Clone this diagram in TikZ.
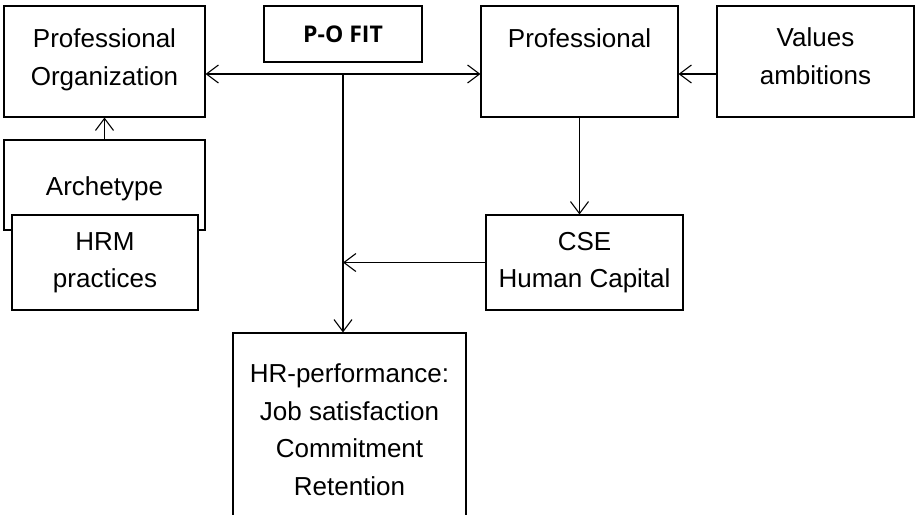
\documentclass[tikz,border=0pt]{standalone}
\usepackage{fontspec}
\setmainfont{Liberation Sans}
\newfontfamily\fitfont{Open Sans}
\usetikzlibrary{arrows.meta}
\newcommand\lowpad[1]{\rule[-#1]{0pt}{#1}}
\begin{document}
\begin{tikzpicture}[x=1pt,y=-1pt,
  box/.style={draw,line width=1.1pt,inner sep=0pt,align=center,fill=white,
    font=\fontsize{26}{37.5}\selectfont},
  arr/.style={line width=1.1pt,-{Straight Barb[length=12pt,width=18pt,line width=1.1pt]}}]
\clip (0,0) rectangle (915,514);
\fill[white] (0,0) rectangle (915,514);
\node[box,minimum width=201pt,minimum height=111pt] (po) at (104.5,61.5) {Professional\\Organization\lowpad{9pt}};
\node[box,minimum width=158pt,minimum height=56pt,font=\fitfont\bfseries\fontsize{23}{27}\selectfont] (fit) at (343,34) {P-O FIT};
\node[box,minimum width=197pt,minimum height=111pt] (prof) at (579.5,61.5) {Professional\\\mbox{}\lowpad{10pt}};
\node[box,minimum width=197pt,minimum height=111pt] (val) at (815.5,61.5) {Values\\ambitions\lowpad{11pt}};
\node[box,minimum width=201pt,minimum height=90pt] (arch) at (104.5,185) {\rule{0pt}{27pt}Archetype};
\node[box,minimum width=186pt,minimum height=95pt] (hrm) at (105,262.5) {HRM\\practices};
\node[box,minimum width=197pt,minimum height=95pt] (cse) at (584.5,262.5) {CSE\\Human Capital};
\node[box,minimum width=233pt,minimum height=193pt] (hr) at (349.5,429.5) {HR-performance:\\Job satisfaction\\Commitment\\Retention};
\coordinate (j) at (343,74);
\draw[arr] (j) -- (j -| po.east);
\draw[arr] (j) -- (j -| prof.west);
\draw[arr] (j) -- (j |- hr.north);
\draw[arr] (val.west |- j) -- (prof.east |- j);
\draw[arr] (prof.south) -- (prof.south |- cse.north);
\draw[arr] (cse.west) -- (j |- cse.west);
\draw[arr] (arch.north) -- (po.south);
\end{tikzpicture}
\end{document}
